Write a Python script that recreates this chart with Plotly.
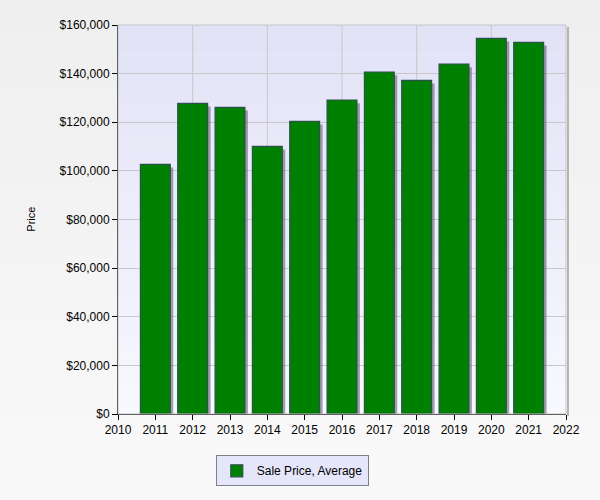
import plotly.graph_objects as go

years = [2011, 2012, 2013, 2014, 2015, 2016, 2017, 2018, 2019, 2020, 2021]
avg_price = [102700, 127800, 126150, 110100, 120400, 129150, 140670, 137250, 143960, 154530, 152880]
series_name = "Sale Price, Average"
y_ticks = [0, 20000, 40000, 60000, 80000, 100000, 120000, 140000, 160000]
y_tick_labels = ["$" + format(v, ",") for v in y_ticks]
x_ticks = list(range(2010, 2023))

fig = go.Figure()

# shadow (offset copy of the bars)
shadow_drop = 1300
fig.add_trace(go.Bar(
    x=years, y=[v - shadow_drop for v in avg_price], width=0.8, offset=-0.4 + 0.08,
    marker=dict(color="rgba(90,90,100,0.55)", line=dict(width=0)),
    showlegend=False, hoverinfo="skip",
))
fig.add_trace(go.Bar(
    x=years, y=avg_price, width=0.8, name=series_name,
    marker=dict(color="#008000", line=dict(color="#2F4F4F", width=1.2)),
))

shapes = []
# page background gradient
n = 30
ptop = (0xEF, 0xEF, 0xEF)
pbot = (0xF9, 0xF9, 0xF9)
for i in range(n):
    t = i / (n - 1)
    c = tuple(round(ptop[k] + (pbot[k] - ptop[k]) * t) for k in range(3))
    y_hi = 1 + 25 / 389 - (i / n) * (500 / 389)
    y_lo = 1 + 25 / 389 - ((i + 1) / n) * (500 / 389)
    shapes.append(dict(type="rect", xref="paper", yref="paper",
                       x0=-118 / 448, x1=1 + 34 / 448, y0=y_lo, y1=y_hi,
                       fillcolor="rgb(%d,%d,%d)" % c, line=dict(width=0), layer="below"))
# plot-area vertical gradient
n = 40
top = (0xE2, 0xE2, 0xF7)
bot = (0xF8, 0xF8, 0xFF)
for i in range(n):
    t = i / (n - 1)
    c = tuple(round(top[k] + (bot[k] - top[k]) * t) for k in range(3))
    shapes.append(dict(type="rect", xref="x domain", yref="y domain",
                       x0=0, x1=1, y0=1 - (i + 1) / n, y1=1 - i / n,
                       fillcolor="rgb(%d,%d,%d)" % c, line=dict(width=0), layer="below"))
# vertical grid at even years
for yr in range(2012, 2022, 2):
    shapes.append(dict(type="line", xref="x", yref="y domain", x0=yr, x1=yr, y0=0, y1=1,
                       line=dict(color="#C8C8C8", width=1), layer="below"))
# plot border (grey) and right shadow
shapes.append(dict(type="rect", xref="x domain", yref="y domain", x0=0, x1=1, y0=0, y1=1,
                   line=dict(color="#C4C4C4", width=1), fillcolor="rgba(0,0,0,0)", layer="above"))
shapes.append(dict(type="line", xref="x domain", yref="y domain", xsizemode="pixel",
                   xanchor=1, x0=2, x1=2, y0=-0.005, y1=0.995,
                   line=dict(color="#A0A0A0", width=1.5), layer="above"))

fig.update_layout(
    width=600, height=500,
    margin=dict(l=118, r=34, t=25, b=86, autoexpand=False),
    paper_bgcolor="#F3F3F3",
    plot_bgcolor="#EBEBFA",
    barmode="overlay",
    bargap=0.2,
    shapes=shapes,
    font=dict(family="Liberation Sans, Arial, sans-serif", size=12, color="#000000"),
    showlegend=True,
    legend=dict(x=0.389, y=-0.146, xanchor="center", yanchor="middle",
                bgcolor="#E6E6FA", bordercolor="#808080", borderwidth=1,
                font=dict(size=12), orientation="h"),
    annotations=[dict(text="Price", xref="paper", yref="paper", x=-0.196, y=0.5,
                      textangle=-90, showarrow=False, font=dict(size=11),
                      xanchor="center", yanchor="middle")],
)

fig.update_xaxes(range=[2010, 2022], tickvals=x_ticks, ticktext=[str(v) for v in x_ticks],
                 showgrid=False, zeroline=False, showline=True, linecolor="#000000", linewidth=1,
                 ticks="outside", ticklen=5, tickcolor="#000000", automargin=False)
fig.update_yaxes(range=[0, 160000], tickvals=y_ticks, ticktext=y_tick_labels,
                 showgrid=True, gridcolor="#C8C8C8", gridwidth=1, zeroline=False,
                 showline=True, linecolor="#000000", linewidth=1,
                 ticks="outside", ticklen=5, tickcolor="#000000", automargin=False)

fig.write_html("out.html", config={"displayModeBar": False},
               post_script="document.body.style.margin='0';")
